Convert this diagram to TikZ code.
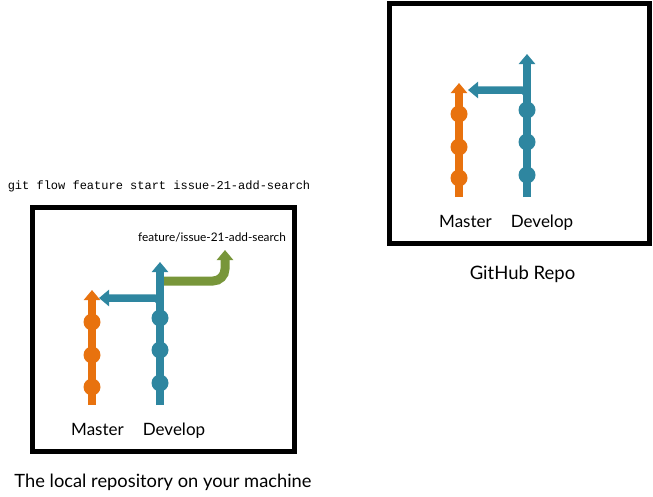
\documentclass[tikz,border=0pt]{standalone}
\usepackage{fontspec}
\setmainfont{Lato}
\setmonofont{Liberation Mono}
\usetikzlibrary{arrows.meta}

\definecolor{masterOrange}{RGB}{232,114,14}
\definecolor{developTeal}{RGB}{46,134,160}
\definecolor{featureGreen}{RGB}{120,150,58}

\def\commitRad{8.5pt}

\begin{document}
\begin{tikzpicture}[
    x=1pt, y=-1pt,
    repo/.style={draw, line width=5pt},
    branch/.style={line width=7.5pt, -{Triangle[width=16pt,length=10pt]}},
    commit/.style={shape=circle, fill, inner sep=0, minimum size=2*\commitRad},
    caption/.style={anchor=base, font=\fontsize{17}{20}\selectfont},
    every node/.style={align=center},
  ]
  \useasboundingbox (0,0) rectangle (653,496);

  % Command
  \node[anchor=base, font=\ttfamily\fontsize{12}{14}\selectfont] (cmd) at (159,189)
    {git flow feature start issue-21-add-search};

  % Local repository
  \draw[repo] (32.5,207.5) rectangle (294,451.5);
  \node[caption, font=\fontsize{18.3}{22}\selectfont] (local) at (163,487)
    {The local repository on your machine};
  \begin{scope}[shift={(92,405)}]
    \coordinate (lm-base) at (0,0);
    \coordinate (lm-tip) at (0,-115);
    \coordinate (ld-base) at (68,0);
    \coordinate (ld-tip) at (68,-143);
    \coordinate (ld-fork) at (68,-107);
    \coordinate (ld-merge) at (7,-107);
    \coordinate (lf-start) at (68,-124);
    \coordinate (lf-bend) at (133,-124);
    \coordinate (lf-tip) at (133,-155);

    \draw[branch, featureGreen, line width=9pt, rounded corners=12pt]
      (lf-start) -- (lf-bend) -- (lf-tip);
    \draw[branch, masterOrange] (lm-base) -- (lm-tip);
    \draw[branch, developTeal] (ld-base) -- (ld-tip);
    \draw[branch, developTeal, rounded corners=6pt]
      ([yshift=-12pt]ld-fork) -- (ld-fork) -- (ld-merge);
    \foreach \h [count=\i] in {83,50,18}
      \node[commit, masterOrange] (lm\i) at (0,-\h) {};
    \foreach \h [count=\i] in {87,55,22}
      \node[commit, developTeal] (ld\i) at (68,-\h) {};

    \node[caption] (lm-name) at (5.5,30.5) {Master};
    \node[caption] (ld-name) at (82,30.5) {Develop};
    \node[font=\fontsize{11.8}{13}\selectfont] (lf-name) at (120,-168)
      {feature/issue-21-add-search};
  \end{scope}

  % GitHub repository
  \draw[repo] (389,3) rectangle (649,243);
  \node[caption, font=\fontsize{18.5}{22}\selectfont] (remote) at (522.5,279) {GitHub Repo};
  \begin{scope}[shift={(459,197)}]
    \coordinate (rm-base) at (0,0);
    \coordinate (rm-tip) at (0,-114);
    \coordinate (rd-base) at (68,0);
    \coordinate (rd-tip) at (68,-143);
    \coordinate (rd-fork) at (68,-107);
    \coordinate (rd-merge) at (9,-107);

    \draw[branch, masterOrange] (rm-base) -- (rm-tip);
    \draw[branch, developTeal] (rd-base) -- (rd-tip);
    \draw[branch, developTeal, rounded corners=6pt]
      ([yshift=-12pt]rd-fork) -- (rd-fork) -- (rd-merge);
    \foreach \h [count=\i] in {83,50,19}
      \node[commit, masterOrange] (rm\i) at (0,-\h) {};
    \foreach \h [count=\i] in {87,55,22}
      \node[commit, developTeal] (rd\i) at (68,-\h) {};

    \node[caption] (rm-name) at (6.5,30.5) {Master};
    \node[caption] (rd-name) at (83,30.5) {Develop};
  \end{scope}
\end{tikzpicture}
\end{document}
